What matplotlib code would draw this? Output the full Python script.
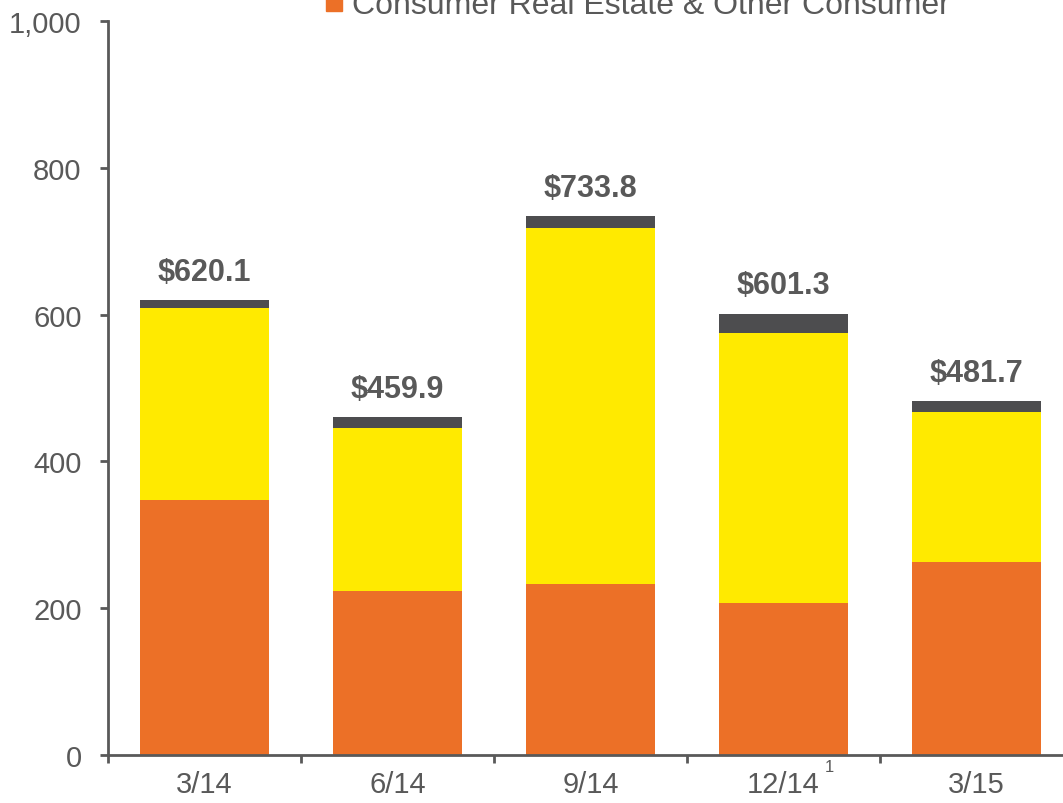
import numpy as np
import matplotlib.pyplot as plt
from matplotlib.patches import Patch
from matplotlib.transforms import blended_transform_factory

plt.rcParams['font.family'] = ['Liberation Sans', 'DejaVu Sans']

quarters = ['3/14', '6/14', '9/14', '12/14', '3/15']
consumer_re = [347, 223, 233, 207, 263]
middle = [262, 222, 485, 368, 204]
totals = [620.1, 459.9, 733.8, 601.3, 481.7]
top = [t - a - b for t, a, b in zip(totals, consumer_re, middle)]

orange = '#EC7027'
yellow = '#FFEA00'
dark = '#4D4D4F'
txt = '#595959'

fig = plt.figure(figsize=(10.63, 8.04), dpi=100)
ax = fig.add_axes([108 / 1063, 48 / 804, 965 / 1063, 734 / 804])

x = np.arange(len(quarters))
w = 0.665
ax.bar(x, consumer_re, w, color=orange)
ax.bar(x, middle, w, bottom=consumer_re, color=yellow)
ax.bar(x, top, w, bottom=np.add(consumer_re, middle), color=dark)

for xi, t in zip(x, totals):
    ax.annotate(f'${t:.1f}', (xi, t), xytext=(0, 9.5), textcoords='offset points',
                ha='center', va='bottom', fontsize=22, fontweight='bold', color=txt)

ax.set_xlim(-0.5, len(quarters) - 0.5)
ax.set_ylim(0, 1000)
ax.set_yticks(range(0, 1001, 200))
ax.set_yticklabels(['0', '200', '400', '600', '800', '1,000'])
ax.set_xticks(x)
ax.set_xticklabels(quarters)
ax.set_xticks(np.arange(-0.5, len(quarters)), minor=True)

for s in ['top', 'right']:
    ax.spines[s].set_visible(False)
for s in ['left', 'bottom']:
    ax.spines[s].set_color(txt)
    ax.spines[s].set_linewidth(2)

ax.tick_params(axis='y', length=6, width=2, color=txt, labelsize=21, labelcolor=txt, pad=13)
ax.tick_params(axis='x', which='major', length=0, labelsize=21, labelcolor=txt, pad=11)
ax.tick_params(axis='x', which='minor', length=6, width=2, color=txt)

trans = blended_transform_factory(ax.transData, ax.transAxes)
ax.text(3.24, -0.005, '1', transform=trans, fontsize=12, color=txt, ha='center', va='top')

fig.legend(handles=[Patch(color=orange, label='Consumer Real Estate & Other Consumer')],
           loc='lower left', bbox_to_anchor=(326 / 1063, 1 - 21 / 804), frameon=False,
           fontsize=23, labelcolor=txt, handlelength=0.5, handleheight=0.5,
           handletextpad=0.3, borderpad=0, borderaxespad=0)

fig.savefig('out.png', dpi=100)
